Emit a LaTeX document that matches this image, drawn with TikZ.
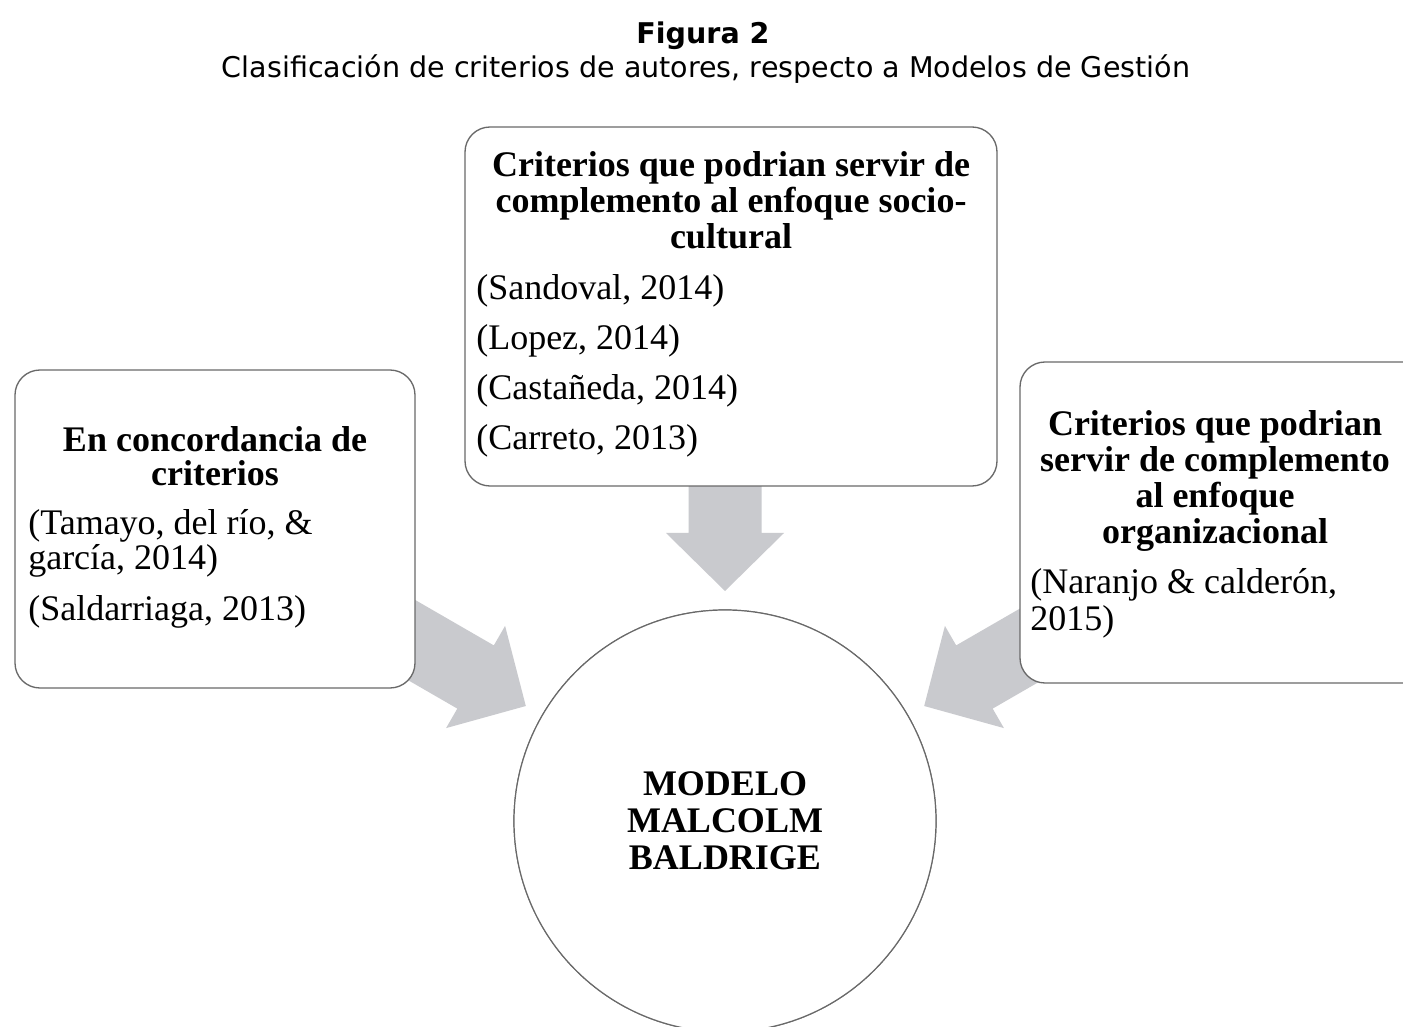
\documentclass[tikz,border=0pt]{standalone}
\usepackage{fontspec}
\newfontfamily\boxfont{Liberation Serif}
\newfontfamily\titfont{DejaVu Sans}
\definecolor{arrowgray}{RGB}{201,202,206}
\definecolor{boxline}{RGB}{105,105,105}
\tikzset{
  boxst/.style={draw=boxline, line width=1pt, rounded corners=18.75pt, fill=white, inner sep=0pt},
  circst/.style={draw=boxline, line width=0.9pt, circle, fill=white, inner sep=0pt, minimum size=316.5pt},
  hd/.style={font=\boxfont\bfseries\fontsize{27}{27}\selectfont, anchor=base, inner sep=0pt},
  ct/.style={font=\boxfont\fontsize{27}{27}\selectfont, anchor=base west, inner sep=0pt},
  blockarrow/.style={fill=arrowgray, draw=none},
  figtitle/.style={font=\titfont\bfseries\fontsize{21.4}{21.4}\selectfont, anchor=base, inner sep=0pt},
  figsub/.style={font=\titfont\fontsize{21.4}{21.4}\selectfont, anchor=base, inner sep=0pt}
}
\begin{document}
\begin{tikzpicture}[x=0.75pt,y=0.75pt]
\path[use as bounding box] (0,0) rectangle (1403,1026);
\clip (0,0) rectangle (1403,1026);
\fill[white] (0,0) rectangle (1403,1026);

% title
\node[figtitle] (fig) at (703,982) {Figura 2};
\node[figsub] (sub) at (706,948) {Clasificación de criterios de autores, respecto a Modelos de Gestión};

% central circle (placed first so arrows can reference it)
\node[circst] (circ) at (725,205) {};

% block arrows pointing to the circle
\foreach \ang in {90,150,30}{
  \begin{scope}[shift={(circ.center)}, rotate=\ang]
    \fill[blockarrow] (230,0) -- (288,59) -- (288,36.5) -- (420,36.5) -- (420,-36.5) -- (288,-36.5) -- (288,-59) -- cycle;
  \end{scope}
}

% boxes
\node[boxst, minimum width=399pt, minimum height=269.25pt] (top) at (731,719.5) {};
\node[boxst, minimum width=300pt, minimum height=238.5pt] (left) at (215,497) {};
\node[boxst, minimum width=309pt, minimum height=240.75pt] (right) at (1226,503.5) {};
\node[circst] (circ2) at (circ.center) {};

% top box text
\node[hd] (t1) at (731,849) {Criterios que podrian servir de};
\node[hd] (t2) at (731,813) {complemento al enfoque socio-};
\node[hd] (t3) at (731,777) {cultural};
\node[ct] (t4) at (476,726) {(Sandoval, 2014)};
\node[ct] (t5) at (476,676) {(Lopez, 2014)};
\node[ct] (t6) at (476,626) {(Castañeda, 2014)};
\node[ct] (t7) at (476,576) {(Carreto, 2013)};

% left box text
\node[hd] (l1) at (215,574) {En concordancia de};
\node[hd] (l2) at (215,540) {criterios};
\node[ct] (l3) at (28,491) {(Tamayo, del río, \&};
\node[ct] (l4) at (28,456) {garcía, 2014)};
\node[ct] (l5) at (28,406) {(Saldarriaga, 2013)};

% right box text
\node[hd] (r1) at (1215,590) {Criterios que podrian};
\node[hd] (r2) at (1215,554) {servir de complemento};
\node[hd] (r3) at (1215,518) {al enfoque};
\node[hd] (r4) at (1215,482) {organizacional};
\node[ct] (r5) at (1030,432) {(Naranjo \& calderón,};
\node[ct] (r6) at (1030,396) {2015)};

% circle text
\node[hd] (c1) at (725,231) {MODELO};
\node[hd] (c2) at (725,194) {MALCOLM};
\node[hd] (c3) at (725,157) {BALDRIGE};
\end{tikzpicture}
\end{document}
